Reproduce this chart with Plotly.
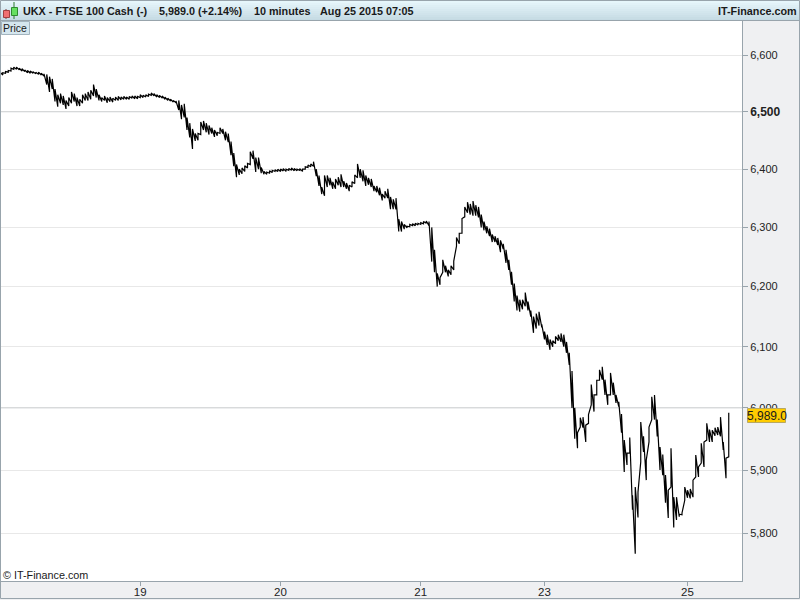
import numpy as np
import plotly.graph_objects as go

# 10 minute bars, written as low, high, low, high ...
aug18 = [6566,6570, 6565,6569, 6568,6571, 6570,6573, 6572,6577, 6575,6579, 6575,6579, 6574,6577, 6572,6576, 6571,6574,
         6569,6573, 6568,6572, 6568,6571, 6567,6570, 6566,6570, 6565,6568, 6563,6567, 6548,6566, 6535,6562, 6540,6558,
         6518,6540, 6509,6530, 6515,6532, 6512,6528, 6505,6520, 6510,6525, 6515,6535, 6518,6532, 6510,6525, 6510,6522,
         6515,6530, 6520,6532, 6520,6535, 6522,6538, 6528,6548, 6525,6540, 6520,6530, 6518,6525, 6520,6528, 6516,6525,
         6518,6526, 6517,6524, 6520,6526, 6520,6527, 6521,6526, 6522,6527, 6522,6526, 6522,6527, 6524,6528, 6523,6528,
         6523,6527]
aug19 = [6525,6530, 6525,6529, 6526,6530, 6527,6531, 6529,6533, 6528,6532, 6526,6530, 6525,6529, 6524,6528, 6522,6526,
         6520,6524, 6519,6522, 6517,6520, 6516,6519, 6503,6520, 6487,6512, 6490,6514, 6468,6490, 6455,6480, 6435,6470,
         6449,6462, 6450,6462, 6460,6482, 6468,6484, 6464,6480, 6460,6476, 6462,6472, 6456,6468, 6458,6464, 6462,6472,
         6462,6470, 6450,6465, 6447,6462, 6424,6448, 6405,6428, 6386,6408, 6390,6400, 6392,6402, 6396,6406, 6402,6410,
         6408,6430, 6418,6432, 6395,6420, 6400,6420, 6393,6403, 6391,6396, 6391,6395, 6393,6397, 6394,6398, 6396,6399,
         6396,6400]
aug20 = [6396,6400, 6397,6401, 6396,6400, 6398,6401, 6398,6402, 6397,6401, 6397,6400, 6398,6401, 6396,6400, 6400,6404,
         6403,6407, 6404,6409, 6405,6413, 6388,6400, 6371,6389, 6357,6369, 6354,6389, 6369,6389, 6372,6385, 6366,6378,
         6366,6383, 6372,6386, 6369,6391, 6369,6379, 6366,6376, 6362,6372, 6369,6378, 6375,6390, 6385,6409, 6385,6400,
         6379,6398, 6371,6389, 6373,6385, 6369,6383, 6362,6371, 6360,6371, 6355,6368, 6346,6357, 6350,6362, 6350,6366,
         6331,6352, 6331,6348, 6331,6350, 6293,6314, 6293,6310, 6297,6305, 6299,6302, 6301,6305, 6303,6306, 6303,6307,
         6304,6307]
aug21 = [6305,6308, 6306,6310, 6307,6311, 6303,6310, 6242,6300, 6224,6262, 6200,6222, 6203,6215, 6224,6245, 6224,6235,
         6217,6228, 6220,6235, 6228,6243, 6268,6283, 6272,6290, 6290,6315, 6318,6335, 6325,6343, 6322,6340, 6320,6345,
         6320,6338, 6317,6335, 6300,6322, 6295,6310, 6290,6302, 6285,6298, 6275,6288, 6275,6285, 6270,6282, 6258,6278,
         6263,6272, 6240,6262, 6228,6245, 6203,6225, 6175,6205, 6160,6185, 6158,6178, 6162,6178, 6167,6190, 6160,6175,
         6150,6160, 6123,6150, 6130,6155, 6135,6158, 6132,6137]
aug23 = [6112,6125, 6103,6120, 6095,6112, 6100,6110, 6105,6117, 6110,6120, 6108,6122, 6100,6120, 6090,6108, 6070,6090,
         6000,6060, 5950,6000, 5935,5960, 5969,5984, 5968,5985, 5945,5972, 5975,5989, 6005,6038, 5994,6021, 6021,6045,
         6045,6062, 6046,6067, 6021,6046, 6005,6021, 6021,6057, 6021,6041, 6008,6021, 6002,6010, 5960,5990, 5897,5948,
         5908,5927, 5927,5952, 5837,5860, 5768,5873, 5825,5865, 5913,5977, 5929,5954, 5884,5916, 5945,5969, 5981,6018,
         5981,6021, 5954,5981, 5900,5937, 5892,5925, 5848,5892, 5824,5868, 5873,5935, 5809,5857, 5821,5857, 5826,5830,
         5829,5832, 5852,5873]
aug25 = [5856,5868, 5855,5870, 5857,5884, 5889,5924, 5889,5905, 5911,5943, 5905,5945, 5948,5975, 5945,5965, 5945,5964,
         5955,5968, 5956,5969, 5954,5985, 5932,5945, 5887,5919, 5921,5992]

price_ticks = [6600, 6500, 6400, 6300, 6200, 6100, 6000, 5900, 5800]
price_labels = ['6,600', '<span style="font-size:12px"><b>6,500</b></span>', '6,400', '6,300', '6,200',
                '6,100', '6,000', '5,900', '5,800']
strong_levels = [6500, 6000]
day_labels = ['19', '20', '21', '23', '25']

prices = aug18 + aug19 + aug20 + aug21 + aug23 + aug25
bars = np.arange(len(prices)) // 2
sessions = [aug18, aug19, aug20, aug21, aug23]
day_starts = np.cumsum([len(s) // 2 for s in sessions]).tolist()

W, H = 800, 600
LEFT, RIGHT, TOP, BOTTOM = 1, 742, 20, 581
BAR_PX = 2.75
FONT = 'Liberation Sans, Arial, sans-serif'
TEXT = '#1a1a1a'
EDGE = '#98a4ac'


def px(x):
    return (x - LEFT) / (RIGHT - LEFT)


def py(y):
    return (BOTTOM - y) / (BOTTOM - TOP)


def box(x0, y0, x1, y1, fill, line=None):
    return dict(type='rect', xref='paper', yref='paper', layer='above',
                x0=px(x0), x1=px(x1), y0=py(y0), y1=py(y1), fillcolor=fill,
                line=dict(color=line or fill, width=1 if line else 0))


def label(x, y, text, size=10.8, anchor='left', bold=False, color=TEXT):
    return dict(xref='paper', yref='paper', x=px(x), y=py(y), text=f'<b>{text}</b>' if bold else text,
                showarrow=False, xanchor=anchor, yanchor='middle',
                font=dict(family=FONT, size=size, color=color))


fig = go.Figure()

# the round levels get a darker line than the ordinary grid
for level in strong_levels:
    fig.add_trace(go.Scatter(x=[bars[0] - 5, bars[-1] + 20], y=[level, level], mode='lines',
                             line=dict(color='#cfd2d4', width=1), hoverinfo='skip'))

fig.add_trace(go.Scatter(x=bars, y=prices, mode='lines', line=dict(color='#000000', width=1.2)))

# header strip
shapes = []
strips = 10
for i in range(strips):
    t = i / (strips - 1)
    colour = 'rgb(%d,%d,%d)' % (230 - 33 * t, 246 - 28 * t, 251 - 24 * t)
    shapes.append(box(1, 1 + i * 2, 799, 3 + i * 2, colour))
shapes.append(dict(type='line', xref='paper', yref='paper', layer='above', x0=px(0), x1=px(800), y0=py(20.5), y1=py(20.5),
                   line=dict(color=EDGE, width=1)))
# logo: a red and a green candle
shapes += [
    dict(type='line', xref='paper', yref='paper', layer='above', x0=px(6), x1=px(6), y0=py(9), y1=py(19),
         line=dict(color='#7a3a3a', width=1)),
    box(3.5, 10.5, 9.5, 17.5, '#f07070', '#a04040'),
    dict(type='line', xref='paper', yref='paper', layer='above', x0=px(14), x1=px(14), y0=py(2), y1=py(19),
         line=dict(color='#2f7a2f', width=1)),
    box(11.5, 7.5, 17.5, 15.5, '#66e060', '#2f8a2f'),
]
# "Price" tab
shapes.append(box(1.5, 21.5, 29.5, 34.5, '#d5e6ee', '#a3b4be'))
# current price flag
shapes.append(box(747.5, 408.5, 785.5, 422.5, '#ffcc00', '#b8a860'))
# window border
shapes.append(dict(type='rect', xref='paper', yref='paper', layer='above', x0=px(0.5), x1=px(799.5), y0=py(0.5), y1=py(598.5),
                   line=dict(color=EDGE, width=1), fillcolor='rgba(0,0,0,0)'))

annotations = [
    label(21, 11, 'UKX - FTSE 100 Cash (-)', bold=True),
    label(157, 11, '5,989.0 (+2.14%)', bold=True),
    label(252, 11, '10 minutes', bold=True),
    label(318, 11, 'Aug 25 2015 07:05', bold=True),
    label(799, 11, 'IT-Finance.com', anchor='right', bold=True),
    label(1, 28, 'Price', size=10.5),
    label(1, 575, '© IT-Finance.com', size=10.8),
    label(766.5, 415.5, '5,989.0', size=12, anchor='center'),
]

fig.update_layout(
    width=W, height=H, autosize=False,
    margin=dict(l=LEFT, r=W - RIGHT, t=TOP, b=H - BOTTOM, pad=0, autoexpand=False),
    paper_bgcolor='#eff0f2', plot_bgcolor='#ffffff',
    showlegend=False,
    font=dict(family=FONT, size=11, color='#222222'),
    shapes=shapes, annotations=annotations,
)

fig.update_xaxes(
    range=[LEFT / BAR_PX, RIGHT / BAR_PX],
    tickmode='array', tickvals=day_starts, ticktext=day_labels,
    ticks='outside', ticklen=4, tickcolor=EDGE, tickfont=dict(size=11.5), ticklabelstandoff=-4,
    showgrid=False, zeroline=False, showline=True, linecolor=EDGE, linewidth=1,
)
fig.update_yaxes(
    type='log', side='right',
    range=[np.log10(5800) - 47.7 / 8519, np.log10(6600) + 35.3 / 8519],
    tickmode='array', tickvals=price_ticks, ticktext=price_labels,
    ticks='outside', ticklen=5, tickcolor=EDGE, tickfont=dict(size=11),
    showgrid=True, gridcolor='#e8e8e8', gridwidth=1, zeroline=False,
    showline=True, linecolor=EDGE, linewidth=1,
)

# the page's default body margin would push the 800x600 figure off the window
fig.write_html("out.html", config=dict(displayModeBar=False), post_script="document.body.style.margin='0';")
